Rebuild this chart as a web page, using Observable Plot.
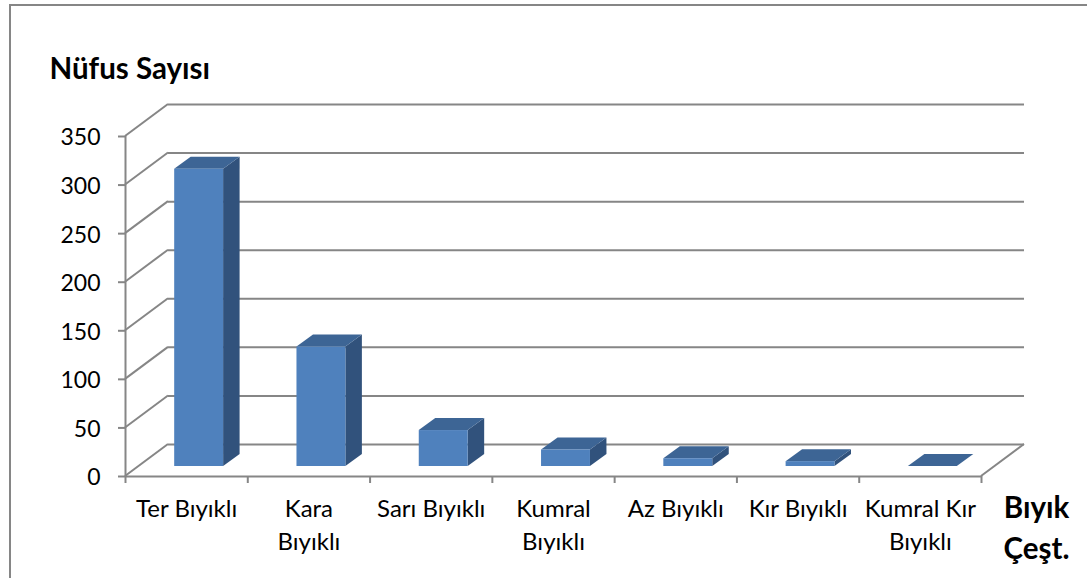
<!DOCTYPE html>
<html><head><meta charset="utf-8">
<script src="https://cdn.jsdelivr.net/npm/d3@7"></script>
<script src="https://cdn.jsdelivr.net/npm/@observablehq/plot@0.6"></script>
<style>
html,body{margin:0;padding:0;background:#fff;overflow:hidden;width:1087px;height:578px}
#frame{position:absolute;left:9px;top:4px;width:1200px;height:700px;border:2px solid #868686}
#chart{position:absolute;left:0;top:0}
</style></head><body>
<div id="frame"></div><div id="chart"></div>
<script>
const categories = ["Ter Bıyıklı","Kara\nBıyıklı","Sarı Bıyıklı","Kumral\nBıyıklı","Az Bıyıklı","Kır Bıyıklı","Kumral Kır\nBıyıklı"];
const values = [306,123,37,17,8,5,0];
const yTicks = [0,50,100,150,200,250,300,350];
const xEdges = [0,1,2,3,4,5,6,7];
const yTitle = "Nüfus Sayısı";
const xTitle = "Bıyık\nÇeşt.";
const grid = "#868686", front = "#4F81BD", topFace = "#3D6595", side = "#31527C";
const font = "Lato, Carlito, sans-serif";
const rows = categories.map((c,i)=>({c,i,v:values[i],x1:i+0.3,x2:i+0.7,xm:i+0.5}));
const wallDx = 43, wallDy = -32, barDx = 12.5, barDy = -10, depthDx = 16.5, depthDy = -12;

function poly(g, pts, fill){
  g.append("polygon").attr("points", pts.map(p=>p.join(",")).join(" ")).attr("fill", fill);
}
// Diagonal wall and floor edges, from the scales
const wallEdges = (index, {x,y}) => {
  const g = d3.create("svg:g").attr("stroke", grid).attr("stroke-width", 2).attr("fill","none");
  for (const t of yTicks) g.append("line").attr("x1",x(0)).attr("y1",y(t)).attr("x2",x(0)+wallDx).attr("y2",y(t)+wallDy);
  g.append("line").attr("x1",x(7)).attr("y1",y(0)).attr("x2",x(7)+wallDx).attr("y2",y(0)+wallDy);
  return g.node();
};
// Top and side faces of each 3D column
const prismFaces = (index, {x,y}) => {
  const g = d3.create("svg:g");
  for (const r of rows) {
    const l = x(r.x1)+barDx, h = x(r.x2)+barDx, t = y(r.v)+barDy, b = y(0)+barDy;
    poly(g, [[h,b],[h+depthDx,b+depthDy],[h+depthDx,t+depthDy],[h,t]], side);
    poly(g, [[l,t],[l+depthDx,t+depthDy],[h+depthDx,t+depthDy],[h,t]], topFace);
  }
  return g.node();
};

const plot = Plot.plot({
  width:1087, height:578,
  marginLeft:125, marginRight:106, marginTop:136, marginBottom:102,
  style:{fontFamily:font, background:"transparent", color:"#000", overflow:"visible"},
  x:{type:"linear", domain:[0,7], axis:null},
  y:{domain:[0,350], axis:null},
  marks:[
    Plot.ruleY(yTicks,{stroke:grid,strokeWidth:2,dx:wallDx,dy:wallDy}),
    wallEdges,
    Plot.ruleX([0],{stroke:grid,strokeWidth:2}),
    Plot.ruleY([0],{stroke:grid,strokeWidth:2}),
    prismFaces,
    Plot.rectY(rows,{x1:"x1",x2:"x2",y1:0,y2:"v",fill:front,dx:barDx,dy:barDy}),
    Plot.axisY({ticks:yTicks,tickSize:7,tickFormat:()=>"",stroke:grid,strokeWidth:2,label:null}),
    Plot.axisY({ticks:yTicks,tickSize:0,fontSize:23,tickPadding:25,dy:1.5,label:null,fill:"#000"}),
    Plot.axisX({ticks:xEdges,tickSize:7,tickFormat:()=>"",stroke:grid,strokeWidth:2,label:null}),
    Plot.text(rows,{x:"xm",y:0,text:"c",dy:17,lineAnchor:"top",fontSize:24,lineHeight:1.375,fill:"#000"}),
    Plot.text([yTitle],{frameAnchor:"top-left",dx:-76,dy:-67,fontSize:29.5,fontWeight:"bold",textAnchor:"start",lineAnchor:"middle",fill:"#000"}),
    Plot.text([xTitle],{frameAnchor:"bottom-right",dx:55,dy:12,fontSize:29.5,fontWeight:"bold",textAnchor:"middle",lineAnchor:"top",lineHeight:1.39,fill:"#000"})
  ]
});
document.getElementById("chart").append(plot);
</script>
</body></html>
